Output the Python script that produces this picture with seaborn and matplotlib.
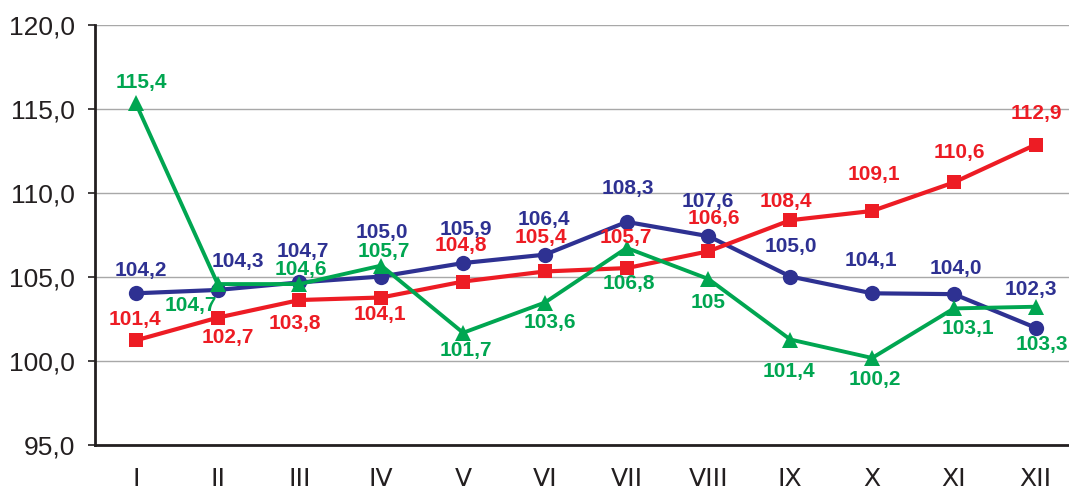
import matplotlib
matplotlib.use("Agg")
import matplotlib.pyplot as plt
import seaborn as sns
import pandas as pd
import numpy as np

months = ["I", "II", "III", "IV", "V", "VI", "VII", "VIII", "IX", "X", "XI", "XII"]

blue_vals = [104.0, 104.2, 104.65, 105.0, 105.8, 106.3, 108.25, 107.4, 105.0, 104.0, 103.95, 101.95]
red_vals = [101.2, 102.55, 103.6, 103.75, 104.7, 105.3, 105.5, 106.5, 108.35, 108.9, 110.6, 112.85]
green_vals = [115.3, 104.55, 104.55, 105.65, 101.65, 103.45, 106.7, 104.85, 101.25, 100.15, 103.1, 103.2]

blue_labels = ["104,2", "104,3", "104,7", "105,0", "105,9", "106,4", "108,3", "107,6", "105,0", "104,1", "104,0", "102,3"]
red_labels = ["101,4", "102,7", "103,8", "104,1", "104,8", "105,4", "105,7", "106,6", "108,4", "109,1", "110,6", "112,9"]
green_labels = ["115,4", "104,7", "104,6", "105,7", "101,7", "103,6", "106,8", "105", "101,4", "100,2", "103,1", "103,3"]

# label offsets in pixels (dx, dy) with dy positive = up
blue_off = [(5, 23), (20, 28), (3, 31), (1, 44), (3, 34), (-1, 35), (1, 33), (-1, 35), (1, 30), (-1, 33), (2, 26), (-5, 38)]
red_off = [(-1, 21), (10, -20), (-5, -23), (-1, -17), (-2, 36), (-4, 34), (-1, 31), (5, 33), (-4, 19), (2, 36), (5, 30), (1, 31)]
green_off = [(5, 21), (-27, -21), (1, 15), (3, 14), (3, -18), (5, -20), (2, -36), (0, -23), (-1, -32), (3, -22), (14, -20), (6, -38)]

BLUE = "#2E3192"
RED = "#ED1C24"
GREEN = "#00A651"
DARK = "#231F20"

sns.set_style("white")
plt.rcParams["font.family"] = ["Liberation Sans", "DejaVu Sans"]

fig = plt.figure(figsize=(10.69, 4.86), dpi=100)
W, H = 1069, 486
left_px, right_px = 95, 95 + 12 * 81.8
top_px, bot_px = 24.5, 444.5
ax = fig.add_axes([left_px / W, 1 - bot_px / H, (right_px - left_px) / W, (bot_px - top_px) / H])

x = np.arange(len(months))
df = pd.DataFrame({"x": x, "blue": blue_vals, "red": red_vals, "green": green_vals})

sns.lineplot(data=df, x="x", y="blue", ax=ax, color=BLUE, lw=3.0, marker="o",
             markersize=11, markeredgewidth=0, zorder=3)
sns.lineplot(data=df, x="x", y="red", ax=ax, color=RED, lw=3.0, marker="s",
             markersize=9.5, markeredgewidth=0, zorder=4)
sns.lineplot(data=df, x="x", y="green", ax=ax, color=GREEN, lw=2.8, marker="^",
             markersize=11, markeredgewidth=0, zorder=5)

def label(vals, labels, offs, color):
    for xi, v, t, (dx, dy) in zip(x, vals, labels, offs):
        ax.annotate(t, (xi, v), xytext=(dx, dy), textcoords="offset pixels",
                    ha="center", va="center", fontsize=15, fontweight="bold",
                    color=color, zorder=6)

label(blue_vals, blue_labels, blue_off, BLUE)
label(red_vals, red_labels, red_off, RED)
label(green_vals, green_labels, green_off, GREEN)

ax.set_xlim(-0.5, 11.5)
ax.set_ylim(95, 120)
yt = [95, 100, 105, 110, 115, 120]
ax.set_yticks(yt)
ax.set_yticklabels([f"{v:.1f}".replace(".", ",") for v in yt], fontsize=19, color=DARK)
ax.yaxis.grid(True, color="#A8A8A8", lw=1.0)
ax.set_axisbelow(True)

ax.set_xticks(np.arange(-0.5, 11.5, 1.0))
ax.set_xticklabels([])
ax.set_xticks(x, minor=True)
ax.set_xticklabels(months, minor=True, fontsize=18, color=DARK,
                   family=["Liberation Sans Narrow", "DejaVu Sans"])
ax.tick_params(axis="x", which="major", length=5.8, width=1.2, color=DARK, direction="out")
ax.tick_params(axis="x", which="minor", length=0, pad=16)
ax.tick_params(axis="y", length=5, width=1.2, color=DARK, direction="out", pad=9.5, left=True)

ax.set_xlabel("")
ax.set_ylabel("")
for s in ["top", "right"]:
    ax.spines[s].set_visible(False)
for s in ["left", "bottom"]:
    ax.spines[s].set_color(DARK)
    ax.spines[s].set_linewidth(2.0)

fig.savefig("out.png", dpi=100)
